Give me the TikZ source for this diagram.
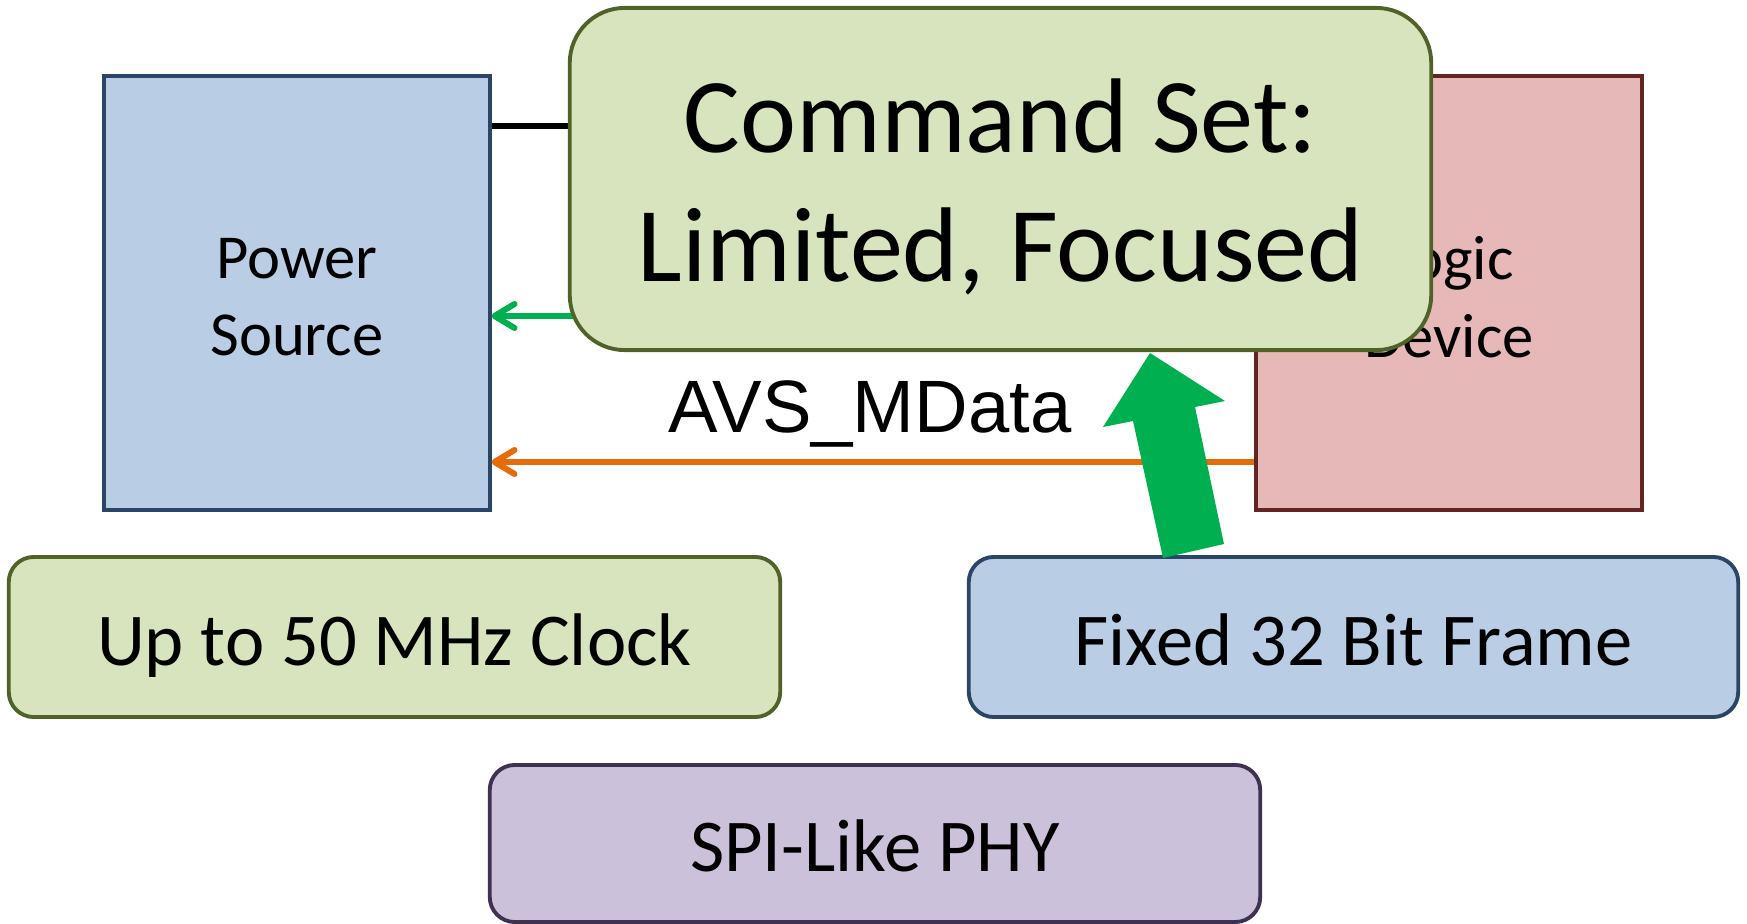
\documentclass[tikz,border=0pt]{standalone}
\usepackage{fontspec}
\setmainfont{Carlito}
\newfontfamily\arialfont{Liberation Sans}
\usetikzlibrary{arrows.meta}

\definecolor{bluefill}{HTML}{B9CDE5}
\definecolor{bluedraw}{HTML}{2A4565}
\definecolor{redfill}{HTML}{E6B9B8}
\definecolor{reddraw}{HTML}{632523}
\definecolor{greenfill}{HTML}{D7E4BD}
\definecolor{greendraw}{HTML}{4F6228}
\definecolor{violetfill}{HTML}{CCC1DA}
\definecolor{violetdraw}{HTML}{3F3151}
\definecolor{sigGreen}{HTML}{00B050}
\definecolor{sigOrange}{HTML}{E46C0A}

\begin{document}
\begin{tikzpicture}[x=0.01cm, y=-0.01cm,
  blockbox/.style={draw, line width=1.1pt, inner sep=0pt, align=center},
  devicebox/.style={blockbox, minimum width=3.85cm, minimum height=4.34cm},
  devicetext/.style={align=center, inner sep=0pt, font=\fontsize{17.8}{22}\selectfont},
  featurebox/.style={blockbox, rounded corners=0.25cm, minimum width=7.7cm,
    minimum height=1.6cm, font=\fontsize{21.2}{25}\selectfont,
    text height=16pt, text depth=0pt},
  wire/.style={line width=1.7pt},
  barb/.style={-{Straight Barb[length=0.2cm, width=0.24cm, line cap=round, line join=round]}},
]
\useasboundingbox (0,0) rectangle (1747,924);

% end devices
\node[devicebox, fill=bluefill, draw=bluedraw] (power) at (297,293) {};
\node[devicetext] (powertext) at ([yshift=-1.2pt]power.center) {Power\\Source};
\node[devicebox, fill=redfill, draw=reddraw] (logic) at (1449,293) {};
\node[devicetext] (logictext) at ([yshift=-1.2pt]logic.center) {Logic\\Device};

% signal rows
\coordinate (rowclk) at (0,126);
\coordinate (rowresp) at (0,316);
\coordinate (rowdata) at (0,462);
\draw[wire, black] (power.east |- rowclk) -- (logic.west |- rowclk);
\draw[wire, sigGreen, barb] (logic.west |- rowresp) -- (power.east |- rowresp);
\draw[wire, sigOrange, barb] (logic.west |- rowdata) -- (power.east |- rowdata);
\node[font=\arialfont\fontsize{21.1}{25}\selectfont, anchor=base, inner sep=0pt] (avs) at (870,432) {AVS\_MData};

% call-out boxes
\node[blockbox, fill=greenfill, draw=greendraw, rounded corners=0.55cm,
  minimum width=8.61cm, minimum height=3.42cm] (cmd) at (1000.5,179) {};
\node[align=center, inner sep=0pt, font=\fontsize{30.2}{36.7}\selectfont]
  (cmdtext) at ([yshift=-2.2pt]cmd.center) {Command Set:\\Limited, Focused};

\node[featurebox, fill=greenfill, draw=greendraw, minimum width=7.71cm] (clock) at (394.5,637) {Up to 50 MHz Clock};
\node[featurebox, fill=bluefill, draw=bluedraw, minimum width=7.69cm] (frame) at (1353.5,637) {Fixed 32 Bit Frame};
\node[featurebox, fill=violetfill, draw=violetdraw, minimum width=7.7cm, minimum height=1.57cm] (phy) at (875,843.5) {SPI-Like PHY};

% block arrow from the frame box up to the command set
\fill[sigGreen] (1150,353) -- (1225,401) -- (1195,407) -- (1224,544)
  -- (1163,558) -- (1133,421) -- (1103,427) -- cycle;
\end{tikzpicture}
\end{document}
